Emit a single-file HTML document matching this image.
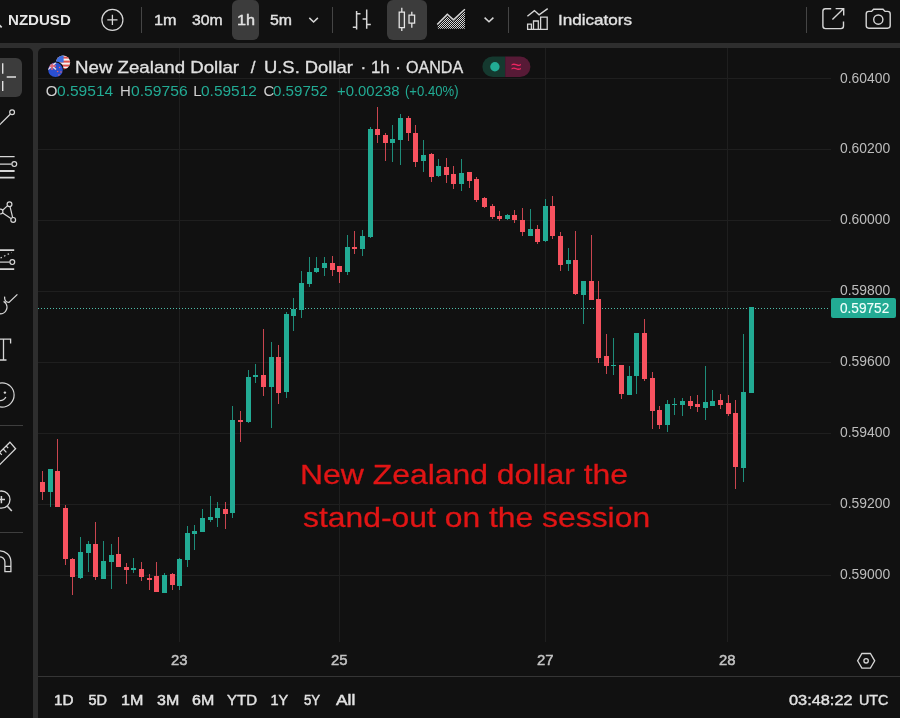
<!DOCTYPE html>
<html><head><meta charset="utf-8"><title>NZDUSD chart</title>
<style>
html,body{margin:0;padding:0;}
body{width:900px;height:718px;overflow:hidden;background:#2e2e2e;position:relative;font-family:"Liberation Sans", sans-serif;color:#e2e2e2;}
.p{position:absolute;background:#111111;}
.t{position:absolute;white-space:nowrap;transform-origin:0 0;}
.g{position:absolute;background:#1f1f1f;}
.sep{position:absolute;width:1px;background:#454545;top:7px;height:26px;}
.hl{position:absolute;background:#3c3c3c;border-radius:6px;}
svg{position:absolute;left:0;top:0;overflow:visible;}
</style></head><body>
<div class="p" style="left:0;top:0;width:900px;height:43px"></div>
<div class="p" style="left:0;top:48px;width:33px;height:670px;border-top-right-radius:5px"></div>
<div class="p" style="left:38px;top:48px;width:862px;height:670px;border-top-left-radius:5px"></div>
<div class="hl" style="left:232px;top:0;width:27px;height:39.5px"></div>
<div class="hl" style="left:386.5px;top:0;width:40.5px;height:39.5px"></div>
<div class="hl" style="left:-10px;top:57.5px;width:32px;height:39.5px"></div>
<div class="sep" style="left:141px"></div>
<div class="sep" style="left:332px"></div>
<div class="sep" style="left:508px"></div>
<div class="sep" style="left:806px"></div>
<div class="g" style="left:38px;top:78px;width:793px;height:1px"></div>
<div class="g" style="left:38px;top:149px;width:793px;height:1px"></div>
<div class="g" style="left:38px;top:220px;width:793px;height:1px"></div>
<div class="g" style="left:38px;top:291px;width:793px;height:1px"></div>
<div class="g" style="left:38px;top:362px;width:793px;height:1px"></div>
<div class="g" style="left:38px;top:433px;width:793px;height:1px"></div>
<div class="g" style="left:38px;top:504px;width:793px;height:1px"></div>
<div class="g" style="left:38px;top:575px;width:793px;height:1px"></div>
<div class="g" style="left:179px;top:48px;width:1px;height:594px"></div>
<div class="g" style="left:339px;top:48px;width:1px;height:594px"></div>
<div class="g" style="left:545px;top:48px;width:1px;height:594px"></div>
<div class="g" style="left:727px;top:48px;width:1px;height:594px"></div>
<div style="position:absolute;left:38px;top:676px;width:862px;height:1px;background:#353535"></div>
<div style="position:absolute;left:0;top:425px;width:23px;height:1px;background:#3e3e3e"></div>
<div style="position:absolute;left:0;top:532px;width:23px;height:1px;background:#3e3e3e"></div>
<svg width="900" height="718" viewBox="0 0 900 718" shape-rendering="crispEdges">
<line x1="38" y1="308" x2="830" y2="308" stroke="#4fbfab" stroke-width="1" stroke-dasharray="1 2"/>
<rect x="42" y="471" width="1" height="29" fill="#f7525f" opacity="0.8"/>
<rect x="40" y="482" width="5" height="10" fill="#f7525f"/>
<rect x="50" y="469" width="1" height="38" fill="#22ab94" opacity="0.8"/>
<rect x="48" y="469" width="5" height="23" fill="#22ab94"/>
<rect x="57" y="439" width="1" height="68" fill="#f7525f" opacity="0.8"/>
<rect x="55" y="471" width="5" height="36" fill="#f7525f"/>
<rect x="65" y="505" width="1" height="60" fill="#f7525f" opacity="0.8"/>
<rect x="63" y="508" width="5" height="51" fill="#f7525f"/>
<rect x="72" y="558" width="1" height="37" fill="#f7525f" opacity="0.8"/>
<rect x="70" y="559" width="5" height="18" fill="#f7525f"/>
<rect x="80" y="537" width="1" height="42" fill="#22ab94" opacity="0.8"/>
<rect x="78" y="552" width="5" height="26" fill="#22ab94"/>
<rect x="88" y="541" width="1" height="31" fill="#22ab94" opacity="0.8"/>
<rect x="86" y="544" width="5" height="9" fill="#22ab94"/>
<rect x="95" y="522" width="1" height="58" fill="#f7525f" opacity="0.8"/>
<rect x="93" y="544" width="5" height="33" fill="#f7525f"/>
<rect x="103" y="541" width="1" height="38" fill="#22ab94" opacity="0.8"/>
<rect x="101" y="561" width="5" height="18" fill="#22ab94"/>
<rect x="111" y="544" width="1" height="45" fill="#22ab94" opacity="0.8"/>
<rect x="109" y="555" width="5" height="7" fill="#22ab94"/>
<rect x="118" y="537" width="1" height="30" fill="#f7525f" opacity="0.8"/>
<rect x="116" y="554" width="5" height="13" fill="#f7525f"/>
<rect x="126" y="563" width="1" height="21" fill="#f7525f" opacity="0.8"/>
<rect x="124" y="567" width="5" height="3" fill="#f7525f"/>
<rect x="133" y="558" width="1" height="15" fill="#22ab94" opacity="0.8"/>
<rect x="131" y="568" width="5" height="2" fill="#22ab94"/>
<rect x="141" y="562" width="1" height="19" fill="#f7525f" opacity="0.8"/>
<rect x="139" y="569" width="5" height="8" fill="#f7525f"/>
<rect x="149" y="574" width="1" height="16" fill="#f7525f" opacity="0.8"/>
<rect x="147" y="578" width="5" height="2" fill="#f7525f"/>
<rect x="156" y="562" width="1" height="30" fill="#f7525f" opacity="0.8"/>
<rect x="154" y="576" width="5" height="16" fill="#f7525f"/>
<rect x="164" y="573" width="1" height="20" fill="#22ab94" opacity="0.8"/>
<rect x="162" y="575" width="5" height="18" fill="#22ab94"/>
<rect x="172" y="573" width="1" height="17" fill="#f7525f" opacity="0.8"/>
<rect x="170" y="574" width="5" height="11" fill="#f7525f"/>
<rect x="179" y="558" width="1" height="32" fill="#22ab94" opacity="0.8"/>
<rect x="177" y="559" width="5" height="27" fill="#22ab94"/>
<rect x="187" y="526" width="1" height="41" fill="#22ab94" opacity="0.8"/>
<rect x="185" y="533" width="5" height="27" fill="#22ab94"/>
<rect x="194" y="525" width="1" height="25" fill="#22ab94" opacity="0.8"/>
<rect x="192" y="531" width="5" height="3" fill="#22ab94"/>
<rect x="202" y="509" width="1" height="23" fill="#22ab94" opacity="0.8"/>
<rect x="200" y="518" width="5" height="14" fill="#22ab94"/>
<rect x="210" y="496" width="1" height="26" fill="#22ab94" opacity="0.8"/>
<rect x="208" y="517" width="5" height="3" fill="#22ab94"/>
<rect x="217" y="502" width="1" height="25" fill="#22ab94" opacity="0.8"/>
<rect x="215" y="508" width="5" height="10" fill="#22ab94"/>
<rect x="225" y="502" width="1" height="27" fill="#f7525f" opacity="0.8"/>
<rect x="223" y="509" width="5" height="5" fill="#f7525f"/>
<rect x="232" y="406" width="1" height="112" fill="#22ab94" opacity="0.8"/>
<rect x="230" y="420" width="5" height="93" fill="#22ab94"/>
<rect x="240" y="411" width="1" height="31" fill="#f7525f" opacity="0.8"/>
<rect x="238" y="420" width="5" height="2" fill="#f7525f"/>
<rect x="248" y="370" width="1" height="53" fill="#22ab94" opacity="0.8"/>
<rect x="246" y="377" width="5" height="45" fill="#22ab94"/>
<rect x="255" y="364" width="1" height="19" fill="#22ab94" opacity="0.8"/>
<rect x="253" y="375" width="5" height="2" fill="#22ab94"/>
<rect x="263" y="329" width="1" height="67" fill="#f7525f" opacity="0.8"/>
<rect x="261" y="375" width="5" height="12" fill="#f7525f"/>
<rect x="271" y="342" width="1" height="86" fill="#22ab94" opacity="0.8"/>
<rect x="269" y="357" width="5" height="30" fill="#22ab94"/>
<rect x="278" y="345" width="1" height="59" fill="#f7525f" opacity="0.8"/>
<rect x="276" y="357" width="5" height="36" fill="#f7525f"/>
<rect x="286" y="312" width="1" height="86" fill="#22ab94" opacity="0.8"/>
<rect x="284" y="314" width="5" height="78" fill="#22ab94"/>
<rect x="293" y="298" width="1" height="33" fill="#22ab94" opacity="0.8"/>
<rect x="291" y="309" width="5" height="7" fill="#22ab94"/>
<rect x="301" y="271" width="1" height="47" fill="#22ab94" opacity="0.8"/>
<rect x="299" y="283" width="5" height="27" fill="#22ab94"/>
<rect x="309" y="257" width="1" height="30" fill="#22ab94" opacity="0.8"/>
<rect x="307" y="272" width="5" height="12" fill="#22ab94"/>
<rect x="316" y="257" width="1" height="16" fill="#22ab94" opacity="0.8"/>
<rect x="314" y="268" width="5" height="4" fill="#22ab94"/>
<rect x="324" y="257" width="1" height="19" fill="#22ab94" opacity="0.8"/>
<rect x="322" y="263" width="5" height="5" fill="#22ab94"/>
<rect x="332" y="256" width="1" height="20" fill="#f7525f" opacity="0.8"/>
<rect x="330" y="263" width="5" height="7" fill="#f7525f"/>
<rect x="339" y="266" width="1" height="17" fill="#f7525f" opacity="0.8"/>
<rect x="337" y="266" width="5" height="6" fill="#f7525f"/>
<rect x="347" y="235" width="1" height="40" fill="#22ab94" opacity="0.8"/>
<rect x="345" y="247" width="5" height="25" fill="#22ab94"/>
<rect x="354" y="231" width="1" height="23" fill="#f7525f" opacity="0.8"/>
<rect x="352" y="247" width="5" height="2" fill="#f7525f"/>
<rect x="362" y="230" width="1" height="26" fill="#22ab94" opacity="0.8"/>
<rect x="360" y="236" width="5" height="13" fill="#22ab94"/>
<rect x="370" y="127" width="1" height="111" fill="#22ab94" opacity="0.8"/>
<rect x="368" y="129" width="5" height="108" fill="#22ab94"/>
<rect x="377" y="107" width="1" height="36" fill="#f7525f" opacity="0.8"/>
<rect x="375" y="129" width="5" height="6" fill="#f7525f"/>
<rect x="385" y="133" width="1" height="28" fill="#f7525f" opacity="0.8"/>
<rect x="383" y="135" width="5" height="8" fill="#f7525f"/>
<rect x="392" y="125" width="1" height="37" fill="#22ab94" opacity="0.8"/>
<rect x="390" y="139" width="5" height="4" fill="#22ab94"/>
<rect x="400" y="114" width="1" height="51" fill="#22ab94" opacity="0.8"/>
<rect x="398" y="118" width="5" height="22" fill="#22ab94"/>
<rect x="408" y="116" width="1" height="25" fill="#f7525f" opacity="0.8"/>
<rect x="406" y="118" width="5" height="15" fill="#f7525f"/>
<rect x="415" y="125" width="1" height="42" fill="#f7525f" opacity="0.8"/>
<rect x="413" y="133" width="5" height="29" fill="#f7525f"/>
<rect x="423" y="140" width="1" height="32" fill="#22ab94" opacity="0.8"/>
<rect x="421" y="155" width="5" height="6" fill="#22ab94"/>
<rect x="431" y="153" width="1" height="29" fill="#f7525f" opacity="0.8"/>
<rect x="429" y="154" width="5" height="23" fill="#f7525f"/>
<rect x="438" y="159" width="1" height="18" fill="#22ab94" opacity="0.8"/>
<rect x="436" y="166" width="5" height="10" fill="#22ab94"/>
<rect x="446" y="158" width="1" height="25" fill="#f7525f" opacity="0.8"/>
<rect x="444" y="167" width="5" height="8" fill="#f7525f"/>
<rect x="453" y="166" width="1" height="23" fill="#f7525f" opacity="0.8"/>
<rect x="451" y="174" width="5" height="10" fill="#f7525f"/>
<rect x="461" y="159" width="1" height="32" fill="#22ab94" opacity="0.8"/>
<rect x="459" y="173" width="5" height="11" fill="#22ab94"/>
<rect x="469" y="172" width="1" height="16" fill="#f7525f" opacity="0.8"/>
<rect x="467" y="172" width="5" height="9" fill="#f7525f"/>
<rect x="476" y="177" width="1" height="25" fill="#f7525f" opacity="0.8"/>
<rect x="474" y="179" width="5" height="21" fill="#f7525f"/>
<rect x="484" y="197" width="1" height="11" fill="#f7525f" opacity="0.8"/>
<rect x="482" y="198" width="5" height="9" fill="#f7525f"/>
<rect x="492" y="204" width="1" height="15" fill="#f7525f" opacity="0.8"/>
<rect x="490" y="206" width="5" height="11" fill="#f7525f"/>
<rect x="499" y="211" width="1" height="10" fill="#f7525f" opacity="0.8"/>
<rect x="497" y="216" width="5" height="3" fill="#f7525f"/>
<rect x="507" y="214" width="1" height="6" fill="#22ab94" opacity="0.8"/>
<rect x="505" y="215" width="5" height="4" fill="#22ab94"/>
<rect x="514" y="210" width="1" height="13" fill="#f7525f" opacity="0.8"/>
<rect x="512" y="215" width="5" height="5" fill="#f7525f"/>
<rect x="522" y="208" width="1" height="28" fill="#f7525f" opacity="0.8"/>
<rect x="520" y="220" width="5" height="12" fill="#f7525f"/>
<rect x="530" y="209" width="1" height="27" fill="#22ab94" opacity="0.8"/>
<rect x="528" y="229" width="5" height="7" fill="#22ab94"/>
<rect x="537" y="225" width="1" height="19" fill="#f7525f" opacity="0.8"/>
<rect x="535" y="229" width="5" height="13" fill="#f7525f"/>
<rect x="545" y="199" width="1" height="43" fill="#22ab94" opacity="0.8"/>
<rect x="543" y="206" width="5" height="35" fill="#22ab94"/>
<rect x="552" y="196" width="1" height="43" fill="#f7525f" opacity="0.8"/>
<rect x="550" y="206" width="5" height="30" fill="#f7525f"/>
<rect x="560" y="232" width="1" height="39" fill="#f7525f" opacity="0.8"/>
<rect x="558" y="236" width="5" height="29" fill="#f7525f"/>
<rect x="568" y="248" width="1" height="23" fill="#22ab94" opacity="0.8"/>
<rect x="566" y="260" width="5" height="4" fill="#22ab94"/>
<rect x="575" y="231" width="1" height="64" fill="#f7525f" opacity="0.8"/>
<rect x="573" y="260" width="5" height="34" fill="#f7525f"/>
<rect x="583" y="281" width="1" height="43" fill="#22ab94" opacity="0.8"/>
<rect x="581" y="281" width="5" height="14" fill="#22ab94"/>
<rect x="591" y="235" width="1" height="65" fill="#f7525f" opacity="0.8"/>
<rect x="589" y="281" width="5" height="19" fill="#f7525f"/>
<rect x="598" y="281" width="1" height="82" fill="#f7525f" opacity="0.8"/>
<rect x="596" y="299" width="5" height="59" fill="#f7525f"/>
<rect x="606" y="334" width="1" height="40" fill="#f7525f" opacity="0.8"/>
<rect x="604" y="356" width="5" height="10" fill="#f7525f"/>
<rect x="613" y="338" width="1" height="37" fill="#22ab94" opacity="0.8"/>
<rect x="611" y="365" width="5" height="1" fill="#22ab94"/>
<rect x="621" y="365" width="1" height="34" fill="#f7525f" opacity="0.8"/>
<rect x="619" y="365" width="5" height="29" fill="#f7525f"/>
<rect x="629" y="366" width="1" height="29" fill="#22ab94" opacity="0.8"/>
<rect x="627" y="376" width="5" height="19" fill="#22ab94"/>
<rect x="636" y="333" width="1" height="61" fill="#22ab94" opacity="0.8"/>
<rect x="634" y="333" width="5" height="43" fill="#22ab94"/>
<rect x="644" y="319" width="1" height="62" fill="#f7525f" opacity="0.8"/>
<rect x="642" y="333" width="5" height="46" fill="#f7525f"/>
<rect x="652" y="372" width="1" height="57" fill="#f7525f" opacity="0.8"/>
<rect x="650" y="378" width="5" height="33" fill="#f7525f"/>
<rect x="659" y="406" width="1" height="23" fill="#f7525f" opacity="0.8"/>
<rect x="657" y="410" width="5" height="15" fill="#f7525f"/>
<rect x="667" y="400" width="1" height="32" fill="#22ab94" opacity="0.8"/>
<rect x="665" y="404" width="5" height="21" fill="#22ab94"/>
<rect x="674" y="398" width="1" height="17" fill="#22ab94" opacity="0.8"/>
<rect x="672" y="404" width="5" height="1" fill="#22ab94"/>
<rect x="682" y="398" width="1" height="18" fill="#22ab94" opacity="0.8"/>
<rect x="680" y="401" width="5" height="4" fill="#22ab94"/>
<rect x="690" y="396" width="1" height="13" fill="#f7525f" opacity="0.8"/>
<rect x="688" y="401" width="5" height="5" fill="#f7525f"/>
<rect x="697" y="395" width="1" height="17" fill="#f7525f" opacity="0.8"/>
<rect x="695" y="404" width="5" height="3" fill="#f7525f"/>
<rect x="705" y="366" width="1" height="54" fill="#22ab94" opacity="0.8"/>
<rect x="703" y="402" width="5" height="6" fill="#22ab94"/>
<rect x="712" y="390" width="1" height="16" fill="#22ab94" opacity="0.8"/>
<rect x="710" y="401" width="5" height="5" fill="#22ab94"/>
<rect x="720" y="394" width="1" height="15" fill="#f7525f" opacity="0.8"/>
<rect x="718" y="400" width="5" height="5" fill="#f7525f"/>
<rect x="728" y="395" width="1" height="21" fill="#f7525f" opacity="0.8"/>
<rect x="726" y="403" width="5" height="11" fill="#f7525f"/>
<rect x="735" y="400" width="1" height="89" fill="#f7525f" opacity="0.8"/>
<rect x="733" y="413" width="5" height="54" fill="#f7525f"/>
<rect x="743" y="334" width="1" height="148" fill="#22ab94" opacity="0.8"/>
<rect x="741" y="392" width="5" height="76" fill="#22ab94"/>
<rect x="749" y="307" width="5" height="86" fill="#22ab94"/>
</svg>
<div style="position:absolute;left:831px;top:298px;width:65px;height:20px;background:#22ab94;border-radius:2px"></div>
<svg width="900" height="718" viewBox="0 0 900 718" fill="none" stroke="#d6d6d6" stroke-width="1.3" stroke-linecap="butt" stroke-linejoin="miter">
<defs>
<pattern id="dots" width="2" height="2" patternUnits="userSpaceOnUse"><rect x="0" y="0" width="1" height="1" fill="#d6d6d6" stroke="none"/><rect x="1" y="1" width="1" height="1" fill="#d6d6d6" stroke="none"/></pattern>
<clipPath id="cnz"><circle cx="55.5" cy="69.8" r="7.3"/></clipPath>
<clipPath id="cus"><circle cx="63.1" cy="62.4" r="7"/></clipPath>
<clipPath id="cleft"><rect x="0" y="48" width="33" height="670"/></clipPath>
</defs>
<!-- search tail -->
<path d="M-1 24.8 L1.7 27.4" stroke-width="1.7"/>
<!-- plus circle -->
<circle cx="112.4" cy="19.9" r="10.5" stroke-width="1.2"/>
<path d="M107.3 19.9 H117.5 M112.4 14.8 V25" stroke-width="1.3"/>
<!-- chevrons -->
<path d="M309.3 17.9 L313.6 22 L317.9 17.9" stroke-width="1.5"/>
<path d="M484.6 17.6 L489 21.8 L493.4 17.6" stroke-width="1.5"/>
<!-- bars icon -->
<path d="M356.6 10.9 V29.5 M352.8 27.2 H356.6 M356.6 13.7 H360.5 M366.7 9.6 V28.8 M362.6 19 H366.7 M366.7 24.6 H370.8" stroke-width="1.5"/>
<!-- candles icon -->
<path d="M399.2 12.2 H404.4 V27.6 H399.2 Z M401.8 7.8 V12.2 M401.8 27.6 V31.1 M409 15.2 H414.6 V23.2 H409 Z M411.8 11.7 V15.2 M411.8 23.2 V27.7" stroke-width="1.3" stroke="#e4e4e4"/>
<!-- area icon -->
<path d="M437.8 25.5 L447.3 15.8 L453.5 21.4 L464.9 10.8 V28.8 H437.8 Z" fill="url(#dots)" stroke="none"/>
<path d="M437.2 24.6 L447.3 14.2 L453.5 19.8 L464.9 9.2" stroke-width="1.5"/>
<!-- indicators icon -->
<path d="M527.4 16.3 L534.4 10.6 L539.1 14.8 L547.7 8.6" stroke-width="1.4"/>
<path d="M527.6 29.3 V24.2 H531.4 V29.3 M533.5 29.3 V21 H538.3 V29.3 M540.6 29.3 V17.2 H547.2 V29.3 M527 29.3 H547.9" stroke-width="1.3"/>
<!-- popout -->
<path d="M831.2 8.8 H825.4 Q822.9 8.8 822.9 11.3 V26.1 Q822.9 28.6 825.4 28.6 H841 Q843.5 28.6 843.5 26.1 V21.4" stroke-width="1.4"/>
<path d="M832.4 19.4 L843.4 8.8 M835.6 8.6 H843.7 V15.4" stroke-width="1.4"/>
<!-- camera -->
<path d="M868.8 11.4 H871.6 L873.6 9.2 H883 L885 11.4 H887.6 Q890.2 11.4 890.2 14 V25.6 Q890.2 28.2 887.6 28.2 H868.8 Q866.2 28.2 866.2 25.6 V14 Q866.2 11.4 868.8 11.4 Z" stroke-width="1.4"/>
<circle cx="878.3" cy="19.6" r="4.6" stroke-width="1.4"/>
<!-- settings hexagon -->
<path d="M857.6 660.8 L861.9 653.5 H870.4 L874.7 660.8 L870.4 668.1 H861.9 Z" stroke-width="1.3"/>
<circle cx="866.1" cy="660.8" r="2.2" stroke-width="1.3"/>
<!-- left toolbar -->
<g clip-path="url(#cleft)">
<path d="M2.7 63.2 V73.7 M2.7 81 V90.9 M6.7 77 H16 M-8 77 H-1" stroke-width="1.4" stroke="#e0e0e0"/>
<!-- trend line -->
<path d="M-4 128.4 L10.2 114.2" stroke-width="1.3"/>
<circle cx="12.1" cy="112.3" r="2.4" stroke-width="1.2"/>
<!-- fib -->
<path d="M-2 156.7 H14.6 M-2 164.1 H11.6" stroke-width="1.2"/>
<circle cx="14.3" cy="164.1" r="2.4" stroke-width="1.2"/>
<path d="M-2 171 H14.6 M-2 177.7 H14.6" stroke-width="1.8"/>
<!-- pattern -->
<circle cx="9.5" cy="204.3" r="2.4" stroke-width="1.2"/>
<circle cx="13.2" cy="219.9" r="2.4" stroke-width="1.2"/>
<circle cx="0.5" cy="211.6" r="2.4" stroke-width="1.2"/>
<path d="M2.6 210.2 L7.4 205.9 M10.1 206.8 L12.6 217.4 M10.9 218.6 L2.7 212.9" stroke-width="1.2"/>
<!-- projection -->
<path d="M-2 250.2 H14.2 M-2 269.1 H14.2" stroke-width="1.7"/>
<path d="M-2 262.1 H9.6" stroke-width="1.2"/>
<circle cx="12.3" cy="262.1" r="2.4" stroke-width="1.2"/>
<path d="M0.5 258 L11.5 252.5" stroke-width="1.3" stroke-dasharray="1.5 2.5"/>
<!-- brush -->
<path d="M4.6 296.6 Q4.2 302.3 9 302.4 L17.4 294.4" stroke-width="1.3"/>
<path d="M3.6 301.4 A6.6 6.6 0 0 1 -1 313.6" stroke-width="1.3"/>
<!-- text T -->
<path d="M-6 339.2 H10.6 V343.6 M3.5 339.2 V360 M-1 360 H6.5" stroke-width="1.3"/>
<!-- smiley -->
<circle cx="2" cy="395" r="12.1" stroke-width="1.2"/>
<circle cx="4.9" cy="392.6" r="1.2" fill="#d6d6d6" stroke="none"/>
<path d="M-2 400.4 Q3.2 401.6 5.9 397" stroke-width="1.3"/>
<!-- ruler -->
<path d="M9.9 442.2 L15.6 448.8 L-3 467.4 L-9 461.2 Z" stroke-width="1.3"/>
<path d="M6.2 446 L8.2 448.2 M3.2 449 L6.4 452.4 M-0.2 452.6 L1.8 454.8" stroke-width="1.2"/>
<!-- zoom -->
<circle cx="1.4" cy="499.6" r="8.6" stroke-width="1.3"/>
<path d="M-2.2 499.6 H5 M1.4 496 V503.2" stroke-width="1.5"/>
<path d="M7.4 506.2 L11.8 511" stroke-width="1.5"/>
<!-- magnet -->
<path d="M-1 550.9 A10.9 10.9 0 0 1 10.9 561.8 V571.6 H4.9 V561.8 A5 5 0 0 0 -1 556.9 M4.9 566.4 H10.9" stroke-width="1.3"/>
</g>
<!-- flags -->
<g stroke="none">
<g clip-path="url(#cus)">
<rect x="55" y="54" width="17" height="17" fill="#f3f3f3"/>
<rect x="55" y="56.6" width="17" height="2" fill="#e0524f"/>
<rect x="55" y="60.6" width="17" height="2" fill="#e0524f"/>
<rect x="55" y="64.6" width="17" height="2" fill="#e0524f"/>
<rect x="55" y="68" width="17" height="2" fill="#e0524f"/>
<rect x="55" y="54" width="8.6" height="8.4" fill="#3e6fe0"/>
</g>
<circle cx="55.5" cy="69.8" r="8.4" fill="#111111"/>
<g clip-path="url(#cnz)">
<rect x="47" y="61" width="17" height="17" fill="#2a4fd0"/>
<path d="M48 62.5 L56 69.5 M56 62.5 L48 69.5" stroke="#f0d8dc" stroke-width="1.6"/>
<path d="M52 62 V70 M48 66 H56" stroke="#e8636b" stroke-width="1.4"/>
<circle cx="59.6" cy="67.5" r="0.8" fill="#e8636b"/><circle cx="57.6" cy="71.5" r="0.8" fill="#e8636b"/><circle cx="61" cy="72" r="0.8" fill="#e8636b"/><circle cx="59" cy="75" r="0.8" fill="#e8636b"/>
</g>
<!-- pills -->
<path d="M492.7 56.4 H505.2 V77 H492.7 A10.3 10.3 0 0 1 492.7 56.4 Z" fill="#15392f"/>
<path d="M505.2 56.4 H520.1 A10.3 10.3 0 0 1 520.1 77 H505.2 Z" fill="#571a36"/>
<circle cx="494.9" cy="66.7" r="4.7" fill="#22ab94"/>
</g>
<text x="516.3" y="73.2" text-anchor="middle" font-family="Liberation Sans, sans-serif" font-size="19" font-weight="normal" fill="#ec2560" stroke="none">≈</text>
</svg>

<div class="t" style="left:8.42px;top:10.88px;font-size:15.4px;line-height:18px;font-weight:bold;color:#e6e6e6;transform:scaleX(0.9792);">NZDUSD</div>
<div class="t" style="left:154.02px;top:10.77px;font-size:15px;line-height:18px;font-weight:normal;color:#e2e2e2;transform:scaleX(1.0805);-webkit-text-stroke:0.4px #e2e2e2;">1m</div>
<div class="t" style="left:191.60px;top:10.77px;font-size:15px;line-height:18px;font-weight:normal;color:#e2e2e2;transform:scaleX(1.0528);-webkit-text-stroke:0.4px #e2e2e2;">30m</div>
<div class="t" style="left:236.72px;top:10.77px;font-size:15px;line-height:18px;font-weight:normal;color:#e2e2e2;transform:scaleX(1.0820);-webkit-text-stroke:0.4px #e2e2e2;">1h</div>
<div class="t" style="left:269.60px;top:10.77px;font-size:15px;line-height:18px;font-weight:normal;color:#e2e2e2;transform:scaleX(1.0569);-webkit-text-stroke:0.4px #e2e2e2;">5m</div>
<div class="t" style="left:557.86px;top:10.57px;font-size:15px;line-height:18px;font-weight:normal;color:#e2e2e2;transform:scaleX(1.1396);-webkit-text-stroke:0.35px #e2e2e2;">Indicators</div>
<div class="t" style="left:74.50px;top:57.50px;font-size:17px;line-height:20px;font-weight:normal;color:#e0e0e0;transform:scaleX(1.0987);-webkit-text-stroke:0.3px #e0e0e0;">New Zealand Dollar</div>
<div class="t" style="left:250.80px;top:57.50px;font-size:17px;line-height:20px;font-weight:normal;color:#e0e0e0;-webkit-text-stroke:0.3px #e0e0e0;">/</div>
<div class="t" style="left:263.82px;top:57.50px;font-size:17px;line-height:20px;font-weight:normal;color:#e0e0e0;transform:scaleX(1.0807);-webkit-text-stroke:0.3px #e0e0e0;">U.S. Dollar</div>
<div class="t" style="left:360.45px;top:57.50px;font-size:17px;line-height:20px;font-weight:normal;color:#e0e0e0;-webkit-text-stroke:0.3px #e0e0e0;">·</div>
<div class="t" style="left:371.41px;top:57.50px;font-size:17px;line-height:20px;font-weight:normal;color:#e0e0e0;transform:scaleX(0.9911);-webkit-text-stroke:0.3px #e0e0e0;">1h</div>
<div class="t" style="left:395.15px;top:57.50px;font-size:17px;line-height:20px;font-weight:normal;color:#e0e0e0;-webkit-text-stroke:0.3px #e0e0e0;">·</div>
<div class="t" style="left:405.60px;top:57.50px;font-size:17px;line-height:20px;font-weight:normal;color:#e0e0e0;transform:scaleX(0.9457);-webkit-text-stroke:0.3px #e0e0e0;">OANDA</div>
<div class="t" style="left:45.75px;top:81.97px;font-size:15px;line-height:18px;font-weight:normal;color:#d0d0d0;">O</div>
<div class="t" style="left:56.80px;top:81.97px;font-size:15px;line-height:18px;font-weight:normal;color:#22ab94;transform:scaleX(1.0357);">0.59514</div>
<div class="t" style="left:120.05px;top:81.97px;font-size:15px;line-height:18px;font-weight:normal;color:#d0d0d0;">H</div>
<div class="t" style="left:130.50px;top:81.97px;font-size:15px;line-height:18px;font-weight:normal;color:#22ab94;transform:scaleX(1.0449);">0.59756</div>
<div class="t" style="left:193.15px;top:81.97px;font-size:15px;line-height:18px;font-weight:normal;color:#d0d0d0;">L</div>
<div class="t" style="left:201.30px;top:81.97px;font-size:15px;line-height:18px;font-weight:normal;color:#22ab94;transform:scaleX(1.0301);">0.59512</div>
<div class="t" style="left:263.60px;top:81.97px;font-size:15px;line-height:18px;font-weight:normal;color:#d0d0d0;">C</div>
<div class="t" style="left:273.30px;top:81.97px;font-size:15px;line-height:18px;font-weight:normal;color:#22ab94;transform:scaleX(1.0078);">0.59752</div>
<div class="t" style="left:337.10px;top:81.97px;font-size:15px;line-height:18px;font-weight:normal;color:#22ab94;transform:scaleX(0.9914);">+0.00238</div>
<div class="t" style="left:405.00px;top:81.97px;font-size:15px;line-height:18px;font-weight:normal;color:#22ab94;transform:scaleX(0.8729);">(+0.40%)</div>
<div class="t" style="left:54.25px;top:692.27px;font-size:14.5px;line-height:17px;font-weight:normal;color:#e2e2e2;transform:scaleX(1.0548);-webkit-text-stroke:0.45px #e2e2e2;">1D</div>
<div class="t" style="left:88.50px;top:692.27px;font-size:14.5px;line-height:17px;font-weight:normal;color:#e2e2e2;-webkit-text-stroke:0.45px #e2e2e2;">5D</div>
<div class="t" style="left:121.39px;top:692.27px;font-size:14.5px;line-height:17px;font-weight:normal;color:#e2e2e2;transform:scaleX(1.1072);-webkit-text-stroke:0.45px #e2e2e2;">1M</div>
<div class="t" style="left:156.50px;top:692.27px;font-size:14.5px;line-height:17px;font-weight:normal;color:#e2e2e2;transform:scaleX(1.1015);-webkit-text-stroke:0.45px #e2e2e2;">3M</div>
<div class="t" style="left:191.50px;top:692.27px;font-size:14.5px;line-height:17px;font-weight:normal;color:#e2e2e2;transform:scaleX(1.1015);-webkit-text-stroke:0.45px #e2e2e2;">6M</div>
<div class="t" style="left:226.50px;top:692.27px;font-size:14.5px;line-height:17px;font-weight:normal;color:#e2e2e2;transform:scaleX(1.0341);-webkit-text-stroke:0.45px #e2e2e2;">YTD</div>
<div class="t" style="left:270.50px;top:692.27px;font-size:14.5px;line-height:17px;font-weight:normal;color:#e2e2e2;-webkit-text-stroke:0.45px #e2e2e2;">1Y</div>
<div class="t" style="left:303.50px;top:692.27px;font-size:14.5px;line-height:17px;font-weight:normal;color:#e2e2e2;transform:scaleX(0.9134);-webkit-text-stroke:0.45px #e2e2e2;">5Y</div>
<div class="t" style="left:336.00px;top:692.27px;font-size:14.5px;line-height:17px;font-weight:normal;color:#e2e2e2;transform:scaleX(1.1955);-webkit-text-stroke:0.45px #e2e2e2;">All</div>
<div class="t" style="left:789.00px;top:691.67px;font-size:14.5px;line-height:17px;font-weight:normal;color:#e2e2e2;transform:scaleX(1.1263);-webkit-text-stroke:0.4px #e2e2e2;">03:48:22</div>
<div class="t" style="left:859.01px;top:691.67px;font-size:14.5px;line-height:17px;font-weight:normal;color:#e2e2e2;transform:scaleX(0.9884);-webkit-text-stroke:0.4px #e2e2e2;">UTC</div>
<div class="t" style="left:171.00px;top:651.67px;font-size:14.5px;line-height:17px;font-weight:normal;color:#c4c4c4;transform:scaleX(1.0271);-webkit-text-stroke:0.45px #c4c4c4;">23</div>
<div class="t" style="left:331.00px;top:651.67px;font-size:14.5px;line-height:17px;font-weight:normal;color:#c4c4c4;transform:scaleX(1.0271);-webkit-text-stroke:0.45px #c4c4c4;">25</div>
<div class="t" style="left:537.30px;top:651.67px;font-size:14.5px;line-height:17px;font-weight:normal;color:#c4c4c4;transform:scaleX(1.0271);-webkit-text-stroke:0.45px #c4c4c4;">27</div>
<div class="t" style="left:719.30px;top:651.67px;font-size:14.5px;line-height:17px;font-weight:normal;color:#c4c4c4;transform:scaleX(1.0271);-webkit-text-stroke:0.45px #c4c4c4;">28</div>
<div class="t" style="left:840.00px;top:299.66px;font-size:14px;line-height:17px;font-weight:normal;color:#f0fffb;transform:scaleX(0.9721);-webkit-text-stroke:0.15px #f0fffb;">0.59752</div>
<div class="t" style="left:300.42px;top:457.72px;font-size:28px;line-height:34px;font-weight:normal;color:#e01515;transform:scaleX(1.1392);-webkit-text-stroke:0.3px #e01515;">New Zealand dollar the</div>
<div class="t" style="left:302.70px;top:500.92px;font-size:28px;line-height:34px;font-weight:normal;color:#e01515;transform:scaleX(1.1377);-webkit-text-stroke:0.3px #e01515;">stand-out on the session</div>
<div class="t" style="left:839.60px;top:69.56px;font-size:14px;line-height:17px;font-weight:normal;color:#bdbdbd;transform:scaleX(0.9917);">0.60400</div>
<div class="t" style="left:839.60px;top:140.46px;font-size:14px;line-height:17px;font-weight:normal;color:#bdbdbd;transform:scaleX(0.9917);">0.60200</div>
<div class="t" style="left:839.60px;top:211.36px;font-size:14px;line-height:17px;font-weight:normal;color:#bdbdbd;transform:scaleX(0.9917);">0.60000</div>
<div class="t" style="left:839.60px;top:282.26px;font-size:14px;line-height:17px;font-weight:normal;color:#bdbdbd;transform:scaleX(0.9917);">0.59800</div>
<div class="t" style="left:839.60px;top:353.16px;font-size:14px;line-height:17px;font-weight:normal;color:#bdbdbd;transform:scaleX(0.9917);">0.59600</div>
<div class="t" style="left:839.60px;top:424.06px;font-size:14px;line-height:17px;font-weight:normal;color:#bdbdbd;transform:scaleX(0.9917);">0.59400</div>
<div class="t" style="left:839.60px;top:494.96px;font-size:14px;line-height:17px;font-weight:normal;color:#bdbdbd;transform:scaleX(0.9917);">0.59200</div>
<div class="t" style="left:839.60px;top:565.86px;font-size:14px;line-height:17px;font-weight:normal;color:#bdbdbd;transform:scaleX(0.9917);">0.59000</div>
</body></html>
